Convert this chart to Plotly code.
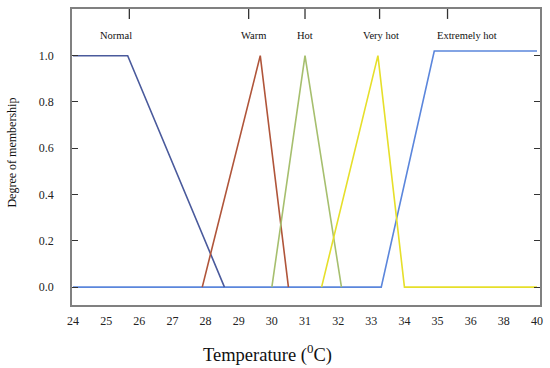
import numpy as np
import plotly.graph_objects as go

# ---------------- data (temperature in degC, membership degree) ----------------
tick_temps = [24, 25, 26, 27, 28, 29, 30, 31, 32, 33, 34, 35, 36, 38, 40]
tick_text = [str(t) for t in tick_temps]
y_ticks = [0.0, 0.2, 0.4, 0.6, 0.8, 1.0]
y_tick_text = ["0.0", "0.2", "0.4", "0.6", "0.8", "1.0"]

normal_T = [24, 25.65, 28.57]
normal_mu = [1.0, 1.0, 0.0]
warm_T = [27.9, 29.65, 30.5]
warm_mu = [0.0, 1.0, 0.0]
hot_T = [30.0, 31.0, 32.1]
hot_mu = [0.0, 1.0, 0.0]
veryhot_T = [31.5, 33.2, 34.0, 40]
veryhot_mu = [0.0, 1.0, 0.0, 0.0]
exthot_T = [24, 33.3, 34.9, 40]
exthot_mu = [0.0, 0.0, 1.02, 1.02]

term_names = ["Normal", "Warm", "Hot", "Very hot", "Extremely hot"]
term_label_T = [25.3, 29.45, 31.0, 33.3, 35.9]
term_tick_T = [25.7, 29.3, 31.0, 33.25, 35.3]

# The original axis places 36, 38, 40 at equal label steps: use a label-index scale
tick_idx = np.arange(len(tick_temps))


def ax(T):
    return np.interp(T, tick_temps, tick_idx)


SERIF = "Liberation Serif, Times New Roman, serif"

fig = go.Figure()
series = [
    (exthot_T, exthot_mu, "#5b86dc", "Extremely hot"),
    (normal_T, normal_mu, "#4a5a9c", "Normal"),
    (warm_T, warm_mu, "#b0553a", "Warm"),
    (hot_T, hot_mu, "#a6bf6e", "Hot"),
    (veryhot_T, veryhot_mu, "#e6df2a", "Very hot"),
]
for T, mu, col, name in series:
    fig.add_trace(go.Scatter(x=ax(T), y=mu, mode="lines", name=name,
                             line=dict(color=col, width=1.6), showlegend=False,
                             hoverinfo="skip"))

# term labels with small tick marks hanging from the top frame
for name, T in zip(term_names, term_label_T):
    fig.add_annotation(x=float(ax(T)), xref="x", y=1, yref="paper", yanchor="middle",
                       yshift=-26, text=name, showarrow=False,
                       font=dict(family=SERIF, size=10.5, color="#111"))
for T in term_tick_T:
    xv = float(ax(T))
    fig.add_shape(type="line", xref="x", yref="paper", x0=xv, x1=xv,
                  y0=1, y1=1 - 10 / 298, line=dict(color="#333", width=1.3),
                  layer="above")

fig.add_annotation(x=0, xref="paper", xanchor="center", xshift=-60, y=0.515,
                   yref="paper", text="Degree of membership", textangle=-90,
                   showarrow=False, font=dict(family=SERIF, size=12, color="#111"))
fig.add_annotation(x=0.418, xref="paper", xanchor="center", y=0, yref="paper",
                   yshift=-48, yanchor="middle", text="Temperature (<sup>0</sup>C)",
                   showarrow=False, font=dict(family=SERIF, size=18.5, color="#111"))

xr = [-0.03, 14.09]
fig.update_layout(
    width=550, height=368,
    margin=dict(l=72, r=9, t=7, b=63),
    paper_bgcolor="white", plot_bgcolor="white",
    xaxis=dict(range=xr, tickvals=list(tick_idx), ticktext=tick_text,
               showgrid=False, zeroline=False, ticks="", showline=True,
               linecolor="#808080", linewidth=1.5, mirror=True,
               ticklabelstandoff=4,
               tickfont=dict(family=SERIF, size=12, color="#222")),
    yaxis=dict(range=[-0.0773, 1.2017], tickvals=y_ticks, ticktext=y_tick_text,
               showgrid=False, zeroline=False, ticks="inside", ticklen=6,
               tickwidth=1.3, tickcolor="#333", showline=True, linecolor="#808080",
               linewidth=1.5, mirror="ticks", ticklabelstandoff=14,
               tickfont=dict(family=SERIF, size=12, color="#222")),
)

fig.write_html("out.html", post_script="document.body.style.margin='0';",
               config={"displayModeBar": False})
